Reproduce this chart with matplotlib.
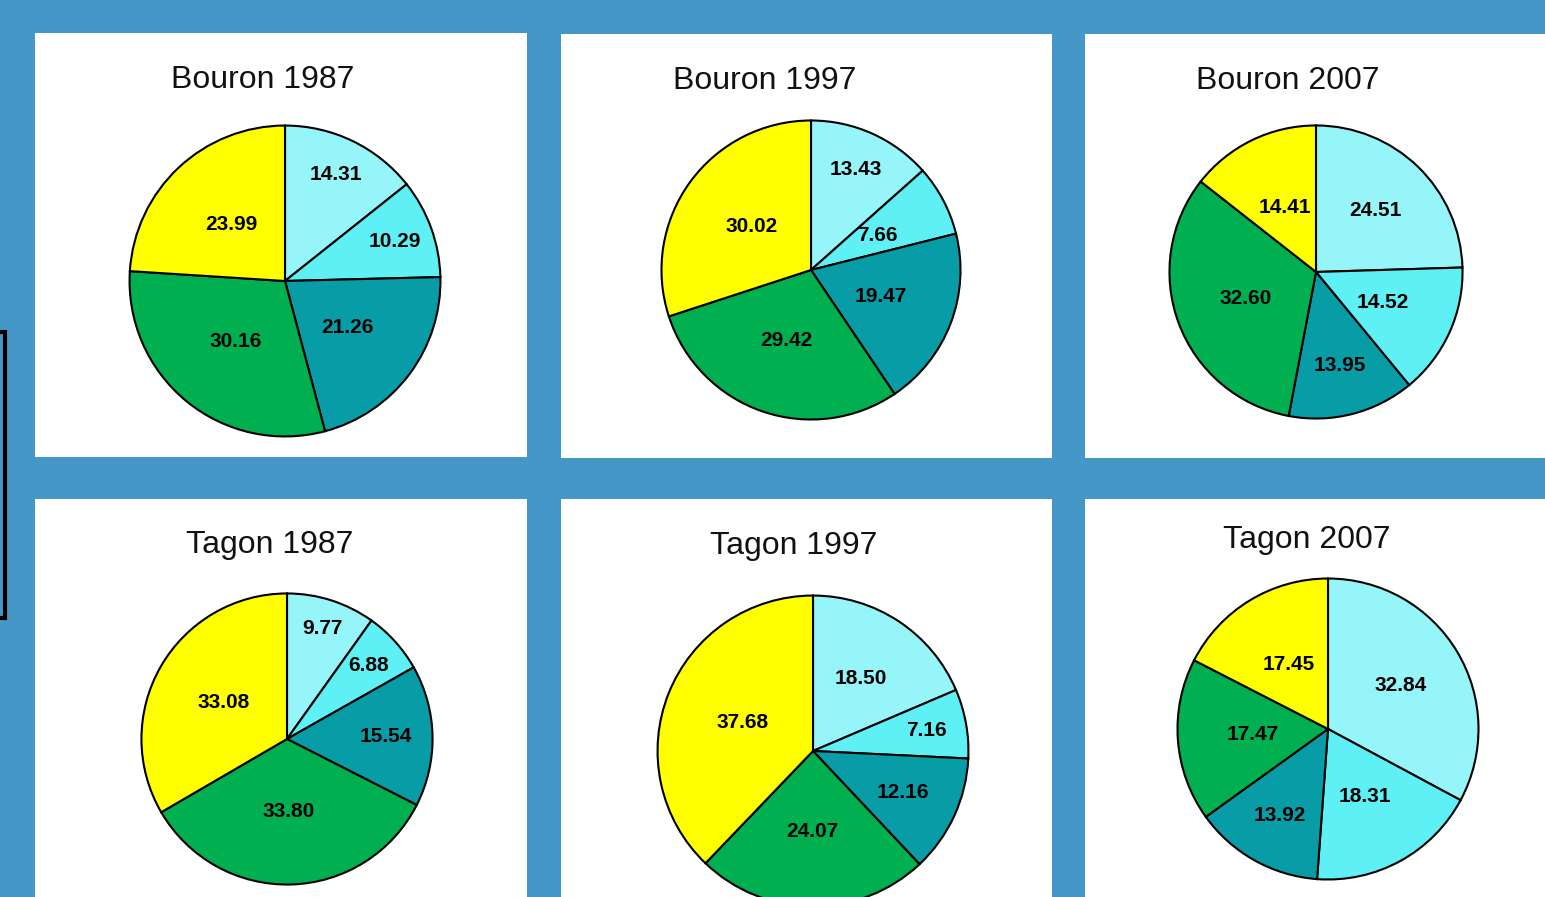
import matplotlib.pyplot as plt
from matplotlib.patches import Rectangle
import numpy as np

plt.rcParams['font.family'] = ['Liberation Sans', 'DejaVu Sans']

# data
titles = ["Bouron 1987", "Bouron 1997", "Bouron 2007",
          "Tagon 1987", "Tagon 1997", "Tagon 2007"]
bouron_1987 = [14.31, 10.29, 21.26, 30.16, 23.99]
bouron_1997 = [13.43, 7.66, 19.47, 29.42, 30.02]
bouron_2007 = [24.51, 14.52, 13.95, 32.60, 14.41]
tagon_1987 = [9.77, 6.88, 15.54, 33.80, 33.08]
tagon_1997 = [18.50, 7.16, 12.16, 24.07, 37.68]
tagon_2007 = [32.84, 18.31, 13.92, 17.47, 17.45]
all_values = [bouron_1987, bouron_1997, bouron_2007,
              tagon_1987, tagon_1997, tagon_2007]

colors = ['#96f5f8', '#5ef0f5', '#089ca6', '#00af4f', '#ffff00']
bg = '#4597c7'

W, H = 1545, 897

# layout in pixels (x0, y0, x1, y1) of white panels
panels = [(35, 33, 527, 457), (561, 34, 1052, 458), (1085, 34, 1560, 458),
          (35, 499, 527, 910), (561, 499, 1052, 910), (1085, 499, 1560, 910)]
# pie centre x, y and radius
pies = [(285, 281, 157), (811, 270, 151), (1316, 272, 148),
        (287, 739, 147), (813, 751, 157), (1328, 729, 152)]
title_pos = [(263, 80), (765, 81), (1288, 81),
             (270, 545), (794, 546), (1307, 540)]
# radial position of the value labels, as a fraction of the radius
label_dist = [[0.76, 0.75, 0.50, 0.50, 0.50],
              [0.74, 0.50, 0.50, 0.50, 0.49],
              [0.58, 0.50, 0.66, 0.51, 0.49],
              [0.80, 0.75, 0.68, 0.50, 0.50],
              [0.56, 0.74, 0.64, 0.52, 0.49],
              [0.56, 0.51, 0.66, 0.50, 0.50]]

fig = plt.figure(figsize=(W / 100, H / 100), dpi=100)
fig.patch.set_facecolor(bg)

for x0, y0, x1, y1 in panels:
  fig.patches.append(Rectangle((x0 / W, 1 - y1 / H), (x1 - x0) / W, (y1 - y0) / H,
                               transform=fig.transFigure, facecolor='white',
                               edgecolor='none', zorder=-2))

# black frame peeking in on the left edge
fig.patches.append(Rectangle((-40 / W, 1 - 618 / H), 45 / W, 286 / H,
                             transform=fig.transFigure, facecolor='none',
                             edgecolor='black', linewidth=3, zorder=-1))

for i, vals in enumerate(all_values):
  cx, cy, r = pies[i]
  ax = fig.add_axes([(cx - r) / W, 1 - (cy + r) / H, 2 * r / W, 2 * r / H])
  wedges, _ = ax.pie(vals, colors=colors, startangle=90, counterclock=False,
                     radius=1, wedgeprops=dict(edgecolor='black', linewidth=1.5))
  for w, v, d in zip(wedges, vals, label_dist[i]):
    ang = np.deg2rad((w.theta1 + w.theta2) / 2)
    ax.text(d * np.cos(ang), d * np.sin(ang), '{:.2f}'.format(v),
            ha='center', va='center', fontsize=15, fontweight='bold', color='black')
  ax.set_xlim(-1.01, 1.01)
  ax.set_ylim(-1.01, 1.01)
  ax.set_aspect('equal')
  ax.axis('off')
  tx, ty = title_pos[i]
  fig.text(tx / W, 1 - ty / H, titles[i], ha='center', va='center',
           fontsize=23, color='#111111')

fig.savefig('out.png', dpi=100, facecolor=bg)
